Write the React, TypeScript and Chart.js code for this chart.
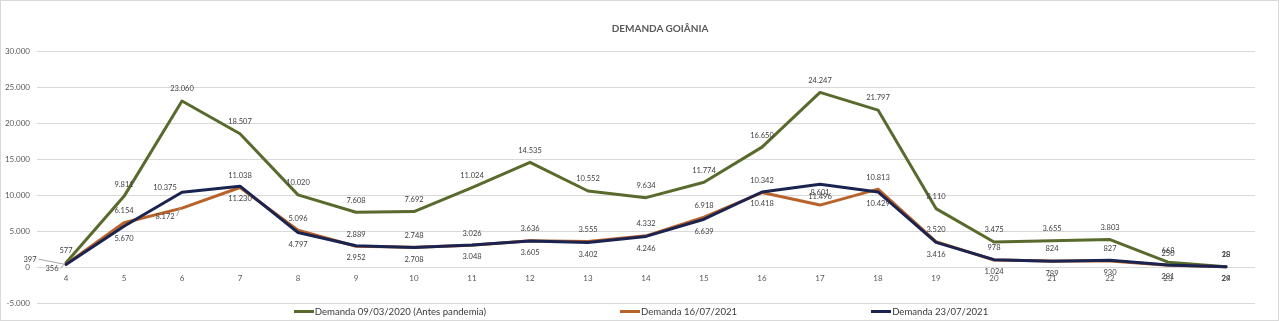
import React, { useEffect, useRef } from "react";
import { Chart, registerables } from "chart.js";

Chart.register(...registerables);

const TITLE = "DEMANDA GOIÂNIA";

const categories = ["4", "5", "6", "7", "8", "9", "10", "11", "12", "13", "14", "15", "16", "17", "18", "19", "20", "21", "22", "23", "24"];

const demanda20200309 = [577, 9811, 23060, 18507, 10020, 7608, 7692, 11024, 14535, 10552, 9634, 11774, 16650, 24247, 21797, 8110, 3475, 3655, 3803, 668, 28];
const demanda20210716 = [397, 6154, 8172, 11038, 5096, 2889, 2748, 3026, 3636, 3555, 4332, 6918, 10342, 8601, 10813, 3520, 978, 824, 827, 250, 18];
const demanda20210723 = [356, 5670, 10375, 11230, 4797, 2952, 2708, 3048, 3605, 3402, 4246, 6639, 10418, 11496, 10429, 3416, 1024, 789, 930, 281, 29];

const seriesNames = ["Demanda 09/03/2020 (Antes pandemia)", "Demanda 16/07/2021", "Demanda 23/07/2021"];
const seriesColors = ["#586b2d", "#b8632a", "#1b2450"];

const yMin = -5000;
const yMax = 30000;
const yStep = 5000;

const FONT = 'Lato, "DejaVu Sans Condensed", sans-serif';

function fmt(n: number): string {
  const s = Math.abs(Math.round(n)).toString().replace(/\B(?=(\d{3})+(?!\d))/g, ".");
  return n < 0 ? "-" + s : s;
}

type Override = { dx: number; dy: number; leader?: boolean };
const labelSides: ("above" | "below")[] = ["above", "above", "below"];
const labelOverrides: Record<number, Override>[] = [
  {},
  { 0: { dx: -36, dy: -5, leader: true }, 2: { dx: -17, dy: 8, leader: true } },
  { 0: { dx: -14, dy: 4, leader: true }, 2: { dx: -17, dy: -5 } },
];

const dataLabelPlugin = {
  id: "dataLabels",
  afterDatasetsDraw(chart: any) {
    const ctx = chart.ctx as CanvasRenderingContext2D;
    ctx.save();
    ctx.font = `7.5px ${FONT}`;
    ctx.textAlign = "center";
    ctx.textBaseline = "middle";
    chart.data.datasets.forEach((ds: any, di: number) => {
      const meta = chart.getDatasetMeta(di);
      meta.data.forEach((pt: any, i: number) => {
        const v = ds.data[i];
        const text = fmt(v);
        const ov = labelOverrides[di][i];
        let x = pt.x;
        let y = pt.y + (labelSides[di] === "above" ? -12 : 12);
        if (ov) {
          x = pt.x + ov.dx;
          y = pt.y + ov.dy;
          if (ov.leader) {
            const w = ctx.measureText(text).width;
            ctx.strokeStyle = "#a6a6a6";
            ctx.lineWidth = 1;
            ctx.beginPath();
            ctx.moveTo(x + w / 2 + 2, y);
            ctx.lineTo(pt.x - 2, pt.y);
            ctx.stroke();
          }
        }
        ctx.fillStyle = "#404040";
        ctx.fillText(text, x, y);
      });
    });
    ctx.restore();
  },
};

export default function App() {
  const canvasRef = useRef<HTMLCanvasElement | null>(null);

  useEffect(() => {
    if (!canvasRef.current) return;
    const seriesData = [demanda20200309, demanda20210716, demanda20210723];
    const chart = new Chart(canvasRef.current, {
      type: "line",
      data: {
        labels: categories,
        datasets: seriesData.map((d, i) => ({
          label: seriesNames[i],
          data: d,
          borderColor: seriesColors[i],
          backgroundColor: seriesColors[i],
          borderWidth: 3,
          pointRadius: 0,
          tension: 0,
          fill: false,
          borderJoinStyle: "round" as const,
          borderCapStyle: "round" as const,
          order: seriesData.length - 1 - i,
        })),
      },
      options: {
        animation: false,
        responsive: true,
        maintainAspectRatio: false,
        layout: { padding: { top: 51, bottom: 18, left: 0, right: 25 } },
        plugins: {
          legend: { display: false },
          title: { display: false },
          tooltip: { enabled: false },
        },
        scales: {
          x: {
            type: "category",
            position: { y: 0 } as any,
            offset: true,
            grid: { display: false, drawTicks: false },
            border: { display: false },
            ticks: {
              color: "#595959",
              font: { family: FONT, size: 8 },
              padding: 7,
              maxRotation: 0,
              autoSkip: false,
            },
          },
          y: {
            min: yMin,
            max: yMax,
            grid: { color: "#d9d9d9", lineWidth: 1, drawTicks: false },
            border: { display: false },
            ticks: {
              stepSize: yStep,
              color: "#595959",
              font: { family: FONT, size: 8 },
              padding: 7,
              callback: (v: any) => fmt(Number(v)),
            },
            afterFit: (scale: any) => {
              scale.width = 37;
            },
          },
        },
      },
      plugins: [dataLabelPlugin],
    });
    return () => chart.destroy();
  }, []);

  return (
    <div style={{ position: "fixed", left: 0, top: 0, width: 1280, height: 321, background: "#fff", overflow: "hidden" }}>
      <div
        style={{
          position: "absolute",
          left: 0,
          top: 0,
          width: 1279,
          height: 321,
          border: "1px solid #d9d9d9",
          boxSizing: "border-box",
        }}
      />
      <div style={{ position: "absolute", left: 0, top: 0, width: 1280, height: 321 }}>
        <canvas ref={canvasRef} />
      </div>
      <div
        style={{
          position: "absolute",
          left: 40,
          top: 21,
          width: 1240,
          textAlign: "center",
          fontFamily: FONT,
          fontWeight: "bold",
          fontSize: 10,
          color: "#595959",
          lineHeight: "14px",
        }}
      >
        {TITLE}
      </div>
      <div
        style={{
          position: "absolute",
          left: 0,
          top: 303,
          width: 1282,
          height: 16,
          display: "flex",
          justifyContent: "center",
          alignItems: "center",
          gap: 134,
          fontFamily: FONT,
          fontSize: 9.6,
          color: "#3a3a3a",
        }}
      >
        {seriesNames.map((name, i) => (
          <div key={name} style={{ display: "flex", alignItems: "center", whiteSpace: "nowrap" }}>
            <span style={{ display: "inline-block", width: 20, height: 3, background: seriesColors[i], marginRight: 1 }} />
            <span>{name}</span>
          </div>
        ))}
      </div>
    </div>
  );
}
